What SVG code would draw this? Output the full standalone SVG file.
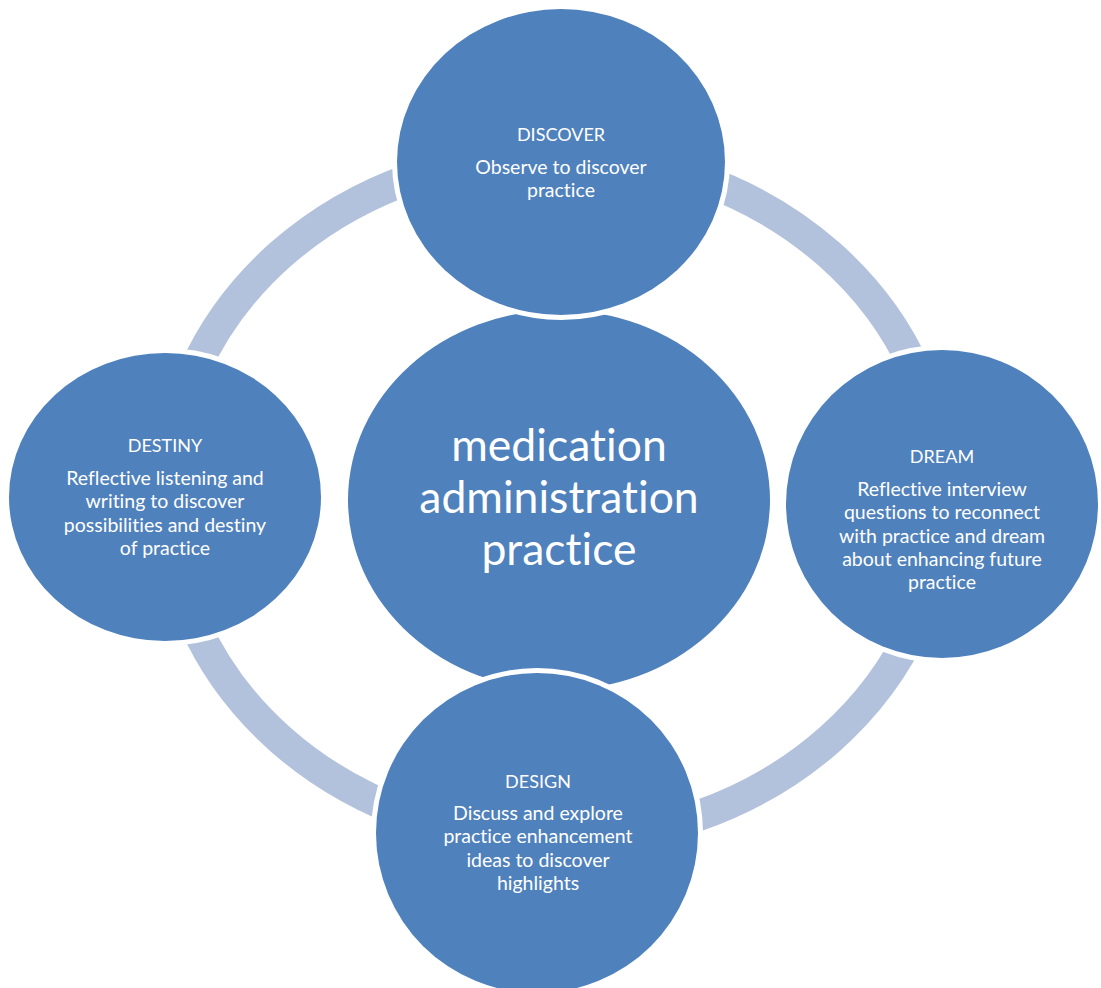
<svg xmlns="http://www.w3.org/2000/svg" width="1101" height="988" viewBox="0 0 1101 988">
  <style>
    .node { fill: #4f81bd; stroke: #ffffff; stroke-width: 10; paint-order: stroke; }
    .ring { fill: none; stroke: #b3c2dc; stroke-width: 31; }
    text { font-family: Lato, "Open Sans", "Liberation Sans", sans-serif; fill: #ffffff; text-anchor: middle; font-variant-ligatures: none; font-feature-settings: "liga" 0; }
    .t { font-size: 19.5px; }
    .h { font-size: 18px; }
    .c { font-size: 44.5px; }
  </style>
  <rect width="1101" height="988" fill="#ffffff"/>
  <g id="connectors">
    <ellipse class="ring" cx="555" cy="497" rx="388" ry="343"/>
  </g>
  <g id="center">
    <ellipse class="node" cx="559" cy="500" rx="211" ry="190"/>
    <text class="c" x="559" y="461">medication</text>
    <text class="c" x="559" y="513">administration</text>
    <text class="c" x="559" y="565">practice</text>
  </g>
  <g id="discover">
    <ellipse class="node" cx="561" cy="162" rx="164" ry="153"/>
    <text class="h" x="561" y="141">DISCOVER</text>
    <text class="t" x="561" y="174">Observe to discover</text>
    <text class="t" x="561" y="197">practice</text>
  </g>
  <g id="dream">
    <ellipse class="node" cx="942" cy="504" rx="156" ry="154"/>
    <text class="h" x="942" y="463">DREAM</text>
    <text class="t" x="942" y="496">Reflective interview</text>
    <text class="t" x="942" y="519">questions to reconnect</text>
    <text class="t" x="942" y="543">with practice and dream</text>
    <text class="t" x="942" y="566">about enhancing future</text>
    <text class="t" x="942" y="589">practice</text>
  </g>
  <g id="design">
    <ellipse class="node" cx="537" cy="833" rx="161" ry="160"/>
    <text class="h" x="538" y="788">DESIGN</text>
    <text class="t" x="538" y="820">Discuss and explore</text>
    <text class="t" x="538" y="843">practice enhancement</text>
    <text class="t" x="538" y="867">ideas to discover</text>
    <text class="t" x="538" y="890">highlights</text>
  </g>
  <g id="destiny">
    <ellipse class="node" cx="165" cy="497" rx="156" ry="144"/>
    <text class="h" x="165" y="452">DESTINY</text>
    <text class="t" x="165" y="485">Reflective listening and</text>
    <text class="t" x="165" y="508">writing to discover</text>
    <text class="t" x="165" y="532">possibilities and destiny</text>
    <text class="t" x="165" y="555">of practice</text>
  </g>
</svg>
